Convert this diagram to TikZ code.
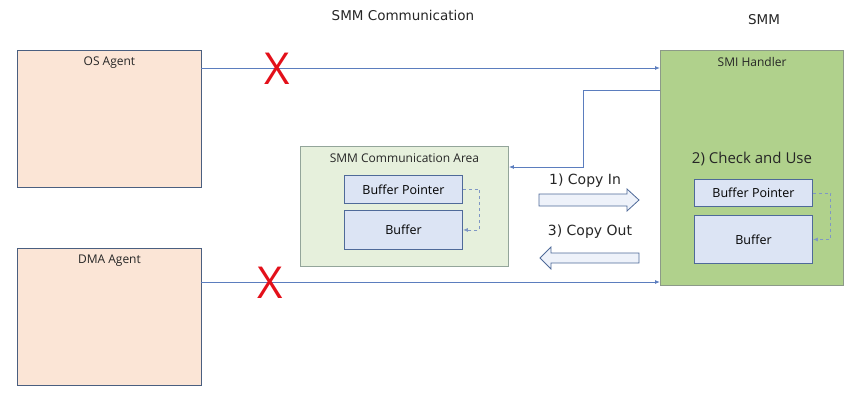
\documentclass[tikz,border=0pt]{standalone}
\usepackage{fontspec}
\setmainfont{Open Sans}
\newfontfamily\verd{DejaVu Sans}
\usetikzlibrary{positioning,arrows.meta}

\definecolor{agentfill}{HTML}{FBE5D6}
\definecolor{agentline}{HTML}{4A5F80}
\definecolor{smifill}{HTML}{B0D18C}
\definecolor{smiline}{HTML}{8C9A88}
\definecolor{commfill}{HTML}{E6F0DC}
\definecolor{commline}{HTML}{93A59A}
\definecolor{buffill}{HTML}{DCE4F4}
\definecolor{bufline}{HTML}{4F6A99}
\definecolor{copyfill}{HTML}{EEF2FA}
\definecolor{linkcol}{HTML}{5B7DBE}
\definecolor{dashcol}{HTML}{7F97C4}
\definecolor{crossred}{HTML}{E3101A}

\tikzset{
  box/.style={draw, anchor=north west, inner sep=0pt, line width=.9pt},
  agent/.style={box, draw=agentline, fill=agentfill, minimum width=184pt, minimum height=137pt},
  smi/.style={box, draw=smiline, fill=smifill, minimum width=183pt, minimum height=235pt, line width=1.2pt},
  commarea/.style={box, draw=commline, fill=commfill, minimum width=208pt, minimum height=120pt},
  bufbox/.style={box, draw=bufline, fill=buffill, minimum width=118pt, font=\fontsize{12.5}{14}\selectfont},
  boxtitle/.style={inner sep=0pt, font=\fontsize{12}{14}\selectfont, text=black!85},
  link/.style={draw=linkcol, line width=.9pt, -{Latex[length=5pt,width=4pt]}},
  ptrlink/.style={draw=dashcol, line width=.9pt, dashed, -{Latex[length=5pt,width=4pt]}},
  copyarrow/.style={draw=bufline, fill=copyfill, line width=.8pt, line join=miter},
  cross/.style={text=crossred, inner sep=0pt, font=\fontsize{44}{44}\selectfont},
  heading/.style={inner sep=0pt, font=\verd\fontsize{13.5}{15}\selectfont, text=black!85},
  steplabel/.style={inner sep=0pt, font=\verd\fontsize{14}{16}\selectfont, text=black!85}
}

\begin{document}
\begin{tikzpicture}[x=1pt, y=-1pt]
  \useasboundingbox (0,0) rectangle (863,400);

  % headings
  \node[heading] (hcomm) at (403,15) {SMM Communication};
  \node[heading] (hsmm) at (764,20) {SMM};

  % outside agents
  \node[agent] (os) at (17,50) {};
  \node[boxtitle, below=7pt of os.north] (ostitle) {OS Agent};
  \node[agent] (dma) at (17,248) {};
  \node[boxtitle, below=7pt of dma.north] (dmatitle) {DMA Agent};

  % SMM side
  \node[smi] (smi) at (660,50) {};
  \node[boxtitle, below=7pt of smi.north] (smititle) {SMI Handler};
  \node[inner sep=0pt, font=\fontsize{15}{17}\selectfont, text=black!85] (check) at (752,159) {2) Check and Use};
  \node[bufbox, minimum height=27pt] (bpr) at (694,179) {Buffer Pointer};
  \node[bufbox, minimum height=48pt] (bufr) at (694,215) {Buffer};

  % communication area
  \node[commarea] (comm) at (300,146) {};
  \node[boxtitle, below=7pt of comm.north] (commtitle) {SMM Communication Area};
  \node[bufbox, minimum height=28pt] (bpl) at (344,175) {Buffer Pointer};
  \node[bufbox, minimum height=39pt] (bufl) at (344,210) {Buffer};

  % pointer links
  \draw[ptrlink] (bpl.east) -- ++(17,0) |- (bufl.east);
  \draw[ptrlink] (bpr.east) -- ++(18,0) |- (bufr.east);

  % blocked accesses
  \coordinate (osout) at (201,68);
  \coordinate (dmaout) at (201,282);
  \draw[link] (osout) -- (osout -| smi.west);
  \draw[link] (dmaout) -- (dmaout -| smi.west);
  \node[cross] (xos) at (277,69) {X};
  \node[cross] (xdma) at (270,283) {X};

  % handler back to comm area
  \coordinate (retA) at (660,90);
  \coordinate (retB) at (583,167);
  \draw[link] (retA) -- (retA -| retB) -- (retB) -- (retB -| comm.east);

  % copy in / copy out
  \draw[copyarrow] (539,194) -- (627,194) -- (627,189) -- (639,200) -- (627,211) -- (627,206) -- (539,206) -- cycle;
  \node[steplabel] (copyintext) at (585,181) {1) Copy In};
  \draw[copyarrow] (639,253) -- (551,253) -- (551,247) -- (540,258) -- (551,269) -- (551,263) -- (639,263) -- cycle;
  \node[steplabel] (copyouttext) at (590,232) {3) Copy Out};
\end{tikzpicture}
\end{document}
